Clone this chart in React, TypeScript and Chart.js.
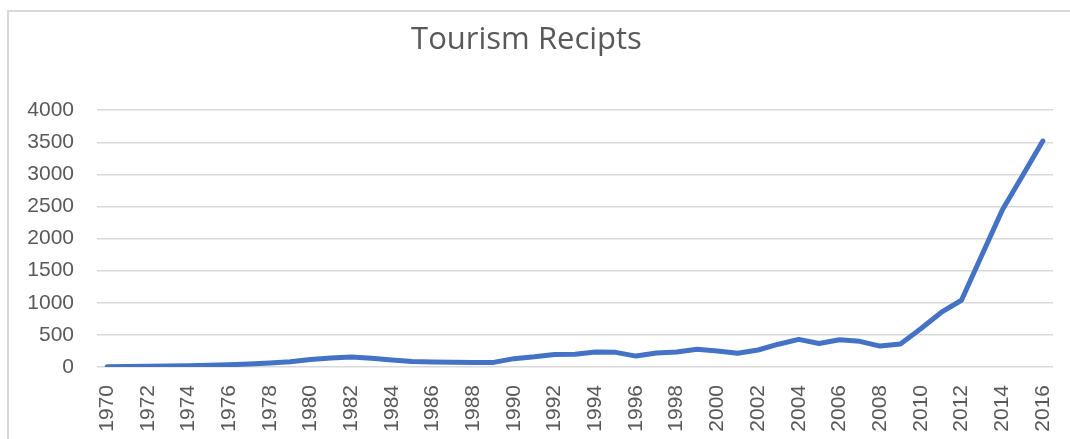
import React, { useEffect, useRef } from "react";
import { Chart, registerables } from "chart.js";

Chart.register(...registerables);

const chartTitle = "Tourism Recipts";

const years = [
  "1970", "1971", "1972", "1973", "1974", "1975", "1976", "1977", "1978", "1979",
  "1980", "1981", "1982", "1983", "1984", "1985", "1986", "1987", "1988", "1989",
  "1990", "1991", "1992", "1993", "1994", "1995", "1996", "1997", "1998", "1999",
  "2000", "2001", "2002", "2003", "2004", "2005", "2006", "2007", "2008", "2009",
  "2010", "2011", "2012", "2013", "2014", "2015", "2016",
];

const receipts = [
  5, 8, 10, 15, 20, 27, 35, 48, 62, 83,
  118, 140, 155, 135, 108, 85, 78, 75, 70, 72,
  130, 158, 195, 200, 232, 228, 170, 218, 235, 278,
  250, 215, 265, 355, 430, 365, 425, 400, 326, 357,
  595, 850, 1040, 1740, 2440, 2980, 3520,
];

const yMin = 0;
const yMax = 4000;
const yStep = 500;

export default function App() {
  const canvasRef = useRef<HTMLCanvasElement | null>(null);

  useEffect(() => {
    if (!canvasRef.current) return;
    const chart = new Chart(canvasRef.current, {
      type: "line",
      data: {
        labels: years,
        datasets: [
          {
            label: chartTitle,
            data: receipts,
            borderColor: "#4472C4",
            backgroundColor: "#4472C4",
            borderWidth: 5,
            pointRadius: 0,
            pointHoverRadius: 0,
            tension: 0,
            borderCapStyle: "round",
            borderJoinStyle: "round",
            fill: false,
          },
        ],
      },
      options: {
        responsive: false,
        animation: false,
        devicePixelRatio: 1,
        layout: { padding: { left: 0, right: 17, top: 0, bottom: 0 } },
        plugins: {
          legend: { display: false },
          tooltip: { enabled: false },
          title: {
            display: true,
            text: chartTitle,
            color: "#595959",
            font: { family: "'Open Sans', 'Liberation Sans', sans-serif", size: 31, weight: "normal", lineHeight: 1.2 },
            padding: { top: 22, bottom: 51 },
          },
        },
        scales: {
          x: {
            offset: true,
            grid: { display: false, drawTicks: false },
            border: { display: false },
            ticks: {
              autoSkip: false,
              minRotation: 90,
              maxRotation: 90,
              padding: 18,
              color: "#595959",
              font: { family: "'Liberation Sans', Arial, sans-serif", size: 21 },
              callback: (_v: any, i: number) => (i % 2 === 0 ? years[i] : ""),
            },
            afterFit: (scale: any) => {
              scale.height = 72;
              scale.paddingLeft = 0;
              scale.paddingRight = 0;
            },
          },
          y: {
            min: yMin,
            max: yMax,
            grid: { color: "#d9d9d9", lineWidth: 1.5, drawTicks: false },
            border: { display: false },
            ticks: {
              stepSize: yStep,
              padding: 23,
              color: "#595959",
              font: { family: "'Liberation Sans', Arial, sans-serif", size: 21 },
              callback: (v: any) => String(v),
            },
            afterFit: (scale: any) => {
              scale.width = 97;
            },
          },
        },
      },
    });
    return () => chart.destroy();
  }, []);

  return (
    <div style={{ position: "absolute", left: 0, top: 0, width: 1070, height: 439, background: "#fff", overflow: "hidden" }}>
      <div
        style={{
          position: "absolute",
          left: 7,
          top: 10,
          width: 1100,
          height: 460,
          border: "2px solid #d9d9d9",
          boxSizing: "border-box",
        }}
      />
      <canvas
        ref={canvasRef}
        width={1070}
        height={439}
        style={{ position: "absolute", left: 0, top: 0, width: 1070, height: 439 }}
      />
    </div>
  );
}
